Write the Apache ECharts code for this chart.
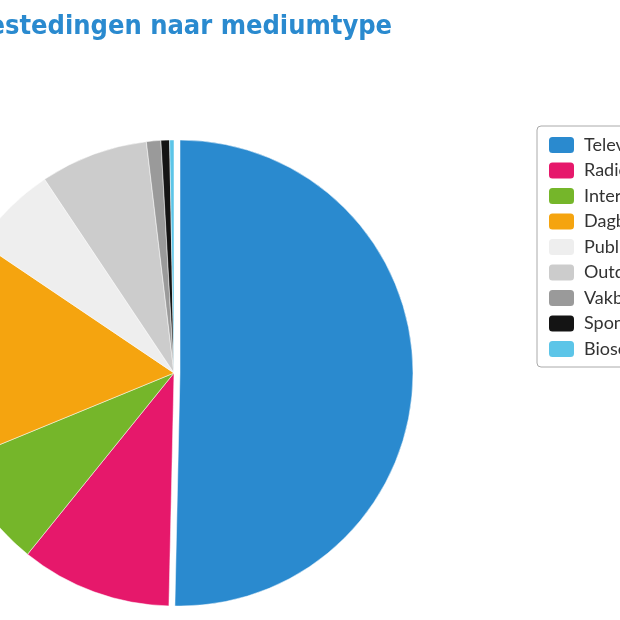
<!DOCTYPE html><html><head><meta charset="utf-8"><script src="https://cdn.jsdelivr.net/npm/echarts@6/dist/echarts.min.js"></script></head><body style="margin:0"><div id="c" style="width:620px;height:620px"></div><script>
const categories=["Televisie","Radio","Internet","Dagbladen","Publieksbladen","Outdoor","Vakbladen","Sponsoring","Bioscoop"];
const values=[50.5,10.5,8,15.7,6.2,7.5,1,0.6,0.3];
const colors=["#2a8acf","#e6186b","#75b62a","#f5a40f","#eeeeee","#cccccc","#9a9a9a","#141414","#5cc5e8"];
const ch=echarts.init(document.getElementById('c'));
ch.setOption({
 animation:false,
 title:{text:"Bestedingen naar mediumtype",left:-35,top:8,textStyle:{fontFamily:"DejaVu Sans Condensed",fontWeight:"bold",fontSize:27,color:"#2a8acf"}},
 legend:{orient:'vertical',left:537,top:126,padding:[9,10,8,10],itemWidth:27,itemHeight:18,itemGap:5.5,borderColor:'#aaa',borderWidth:1,borderRadius:4,icon:'roundRect',
  textStyle:{fontSize:18,color:'#333',fontFamily:'Lato',padding:[0,0,0,4]},data:categories},
 series:[{type:'pie',center:[174,373],radius:233,startAngle:90,clockwise:true,label:{show:false},labelLine:{show:false},
  selectedMode:'single',selectedOffset:6,
  itemStyle:{borderColor:'#fff',borderWidth:0.5},
  data:categories.map((n,i)=>({name:n,value:values[i],selected:i===0,itemStyle:{color:colors[i]}}))}]
});
</script></body></html>
